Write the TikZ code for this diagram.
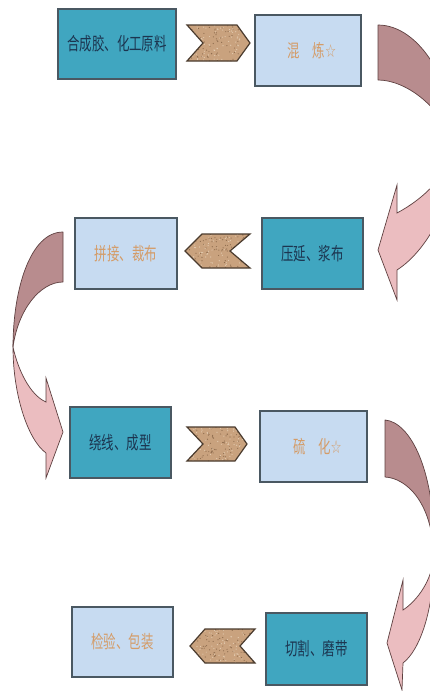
\documentclass[tikz,border=0pt]{standalone}
\usepackage{fontspec}
\newfontfamily\cjk{Noto Sans CJK SC}
\newfontfamily\symf{DejaVu Sans}
\definecolor{tealc}{HTML}{40A6C0}
\definecolor{lightc}{HTML}{C7DBF1}
\definecolor{boxline}{HTML}{4A5862}
\definecolor{navy}{HTML}{1C3550}
\definecolor{tanc}{HTML}{D49C68}
\definecolor{chevc}{HTML}{C9A27E}
\definecolor{chevline}{HTML}{4A3B2E}
\definecolor{speckd}{HTML}{8E6C4E}
\definecolor{speckl}{HTML}{E4CDB2}
\definecolor{mauve}{HTML}{B88C8E}
\definecolor{pinkc}{HTML}{EBBDC0}
\definecolor{ribline}{HTML}{5E4040}
\tikzset{
  box/.style={draw=boxline, line width=1.3pt, inner sep=0pt, font=\cjk\fontsize{18}{21}\selectfont},
  tealbox/.style={box, fill=tealc, text=navy},
  lightbox/.style={box, fill=lightc, text=tanc},
  chev/.style={draw=chevline, line width=1.2pt, line join=miter},
  ribdark/.style={fill=mauve, draw=ribline, line width=0.7pt, line join=round},
  ribpink/.style={fill=pinkc, draw=ribline, line width=0.7pt, line join=miter},
}
\newcommand{\sq}[1]{\scalebox{0.69}[1]{#1}}
\newcommand{\chevshape}[2]{%
  \begin{scope}
    \clip #1;
    \fill[chevc] #1;
    \foreach \k in {1,...,110}{%
      \pgfmathsetmacro{\px}{183+rnd*76}%
      \pgfmathsetmacro{\py}{#2+rnd*40}%
      \fill[speckd] (\px,\py) circle (0.6);
    }
    \foreach \k in {1,...,110}{%
      \pgfmathsetmacro{\px}{183+rnd*76}%
      \pgfmathsetmacro{\py}{#2+rnd*40}%
      \fill[speckl] (\px,\py) circle (0.6);
    }
  \end{scope}
  \draw[chev] #1;}
\begin{document}
\begin{tikzpicture}[x=1pt,y=-1pt]
\useasboundingbox (0,0) rectangle (430,691);
\fill[white] (0,0) rectangle (430,691);
\clip (0,0) rectangle (430,691);
\pgfmathsetseed{7}

% boxes
\node[tealbox, minimum width=118pt, minimum height=70pt] (b1) at (117,44) {\sq{合成胶、化工原料}};
\node[lightbox, minimum width=106pt, minimum height=71pt] (b2) at (308,50.5) {\hspace*{8pt}\sq{混　炼{\symf ☆}}};
\node[tealbox, minimum width=101pt, minimum height=71pt] (b3) at (312.5,253.5) {\sq{压延、浆布}};
\node[lightbox, minimum width=102pt, minimum height=71pt] (b4) at (126,253.5) {\sq{拼接、裁布}};
\node[tealbox, minimum width=101pt, minimum height=71pt] (b5) at (120.5,442.5) {\sq{绕线、成型}};
\node[lightbox, minimum width=107pt, minimum height=71pt] (b6) at (313.5,446.5) {\hspace*{8pt}\sq{硫　化{\symf ☆}}};
\node[tealbox, minimum width=101pt, minimum height=72pt] (b7) at (316.5,649) {\sq{切割、磨带}};
\node[lightbox, minimum width=101pt, minimum height=70pt] (b8) at (122.5,642) {\sq{检验、包装}};

% chevrons
\chevshape{(187,25)--(237,25)--(250,43)--(237,61)--(187,61)--(203,43)--cycle}{23}
\chevshape{(185,251)--(202,234)--(250,234)--(230,251)--(250,268)--(202,268)--cycle}{232}
\chevshape{(187,427)--(235,427)--(247,444)--(235,461)--(187,461)--(203,444)--cycle}{425}
\chevshape{(190,646)--(205,629)--(255,629)--(240,646)--(255,663)--(205,663)--cycle}{627}

% curved arrow 1 (b2 -> b3)
\draw[ribdark] (378,25) .. controls (420,25) and (455,85) .. (455,145)
  .. controls (440,105) and (405,80) .. (378,80) -- cycle;
\draw[ribpink] (455,145) .. controls (448,175) and (425,198) .. (397,213)
  -- (397,185) -- (378,250) -- (397,300) -- (397,270)
  .. controls (428,250) and (455,200) .. (455,145) -- cycle;

% curved arrow 2 (b4 -> b5)
\draw[ribdark] (63,232) .. controls (30,232) and (13,290) .. (13,347)
  .. controls (18,310) and (40,282) .. (63,282) -- cycle;
\draw[ribpink] (13,347) .. controls (18,370) and (30,395) .. (46,402)
  -- (46,378) -- (63,432) -- (46,478) -- (46,453)
  .. controls (28,440) and (13,395) .. (13,347) -- cycle;

% curved arrow 3 (b6 -> b7)
\draw[ribdark] (385,420) .. controls (410,422) and (436,470) .. (434,556)
  .. controls (432,500) and (405,478) .. (385,477) -- cycle;
\draw[ribpink] (434,556) .. controls (432,580) and (418,600) .. (403,610)
  -- (403,580) -- (387,643) -- (402,690) -- (403,663)
  .. controls (420,650) and (434,610) .. (434,556) -- cycle;
\end{tikzpicture}
\end{document}
